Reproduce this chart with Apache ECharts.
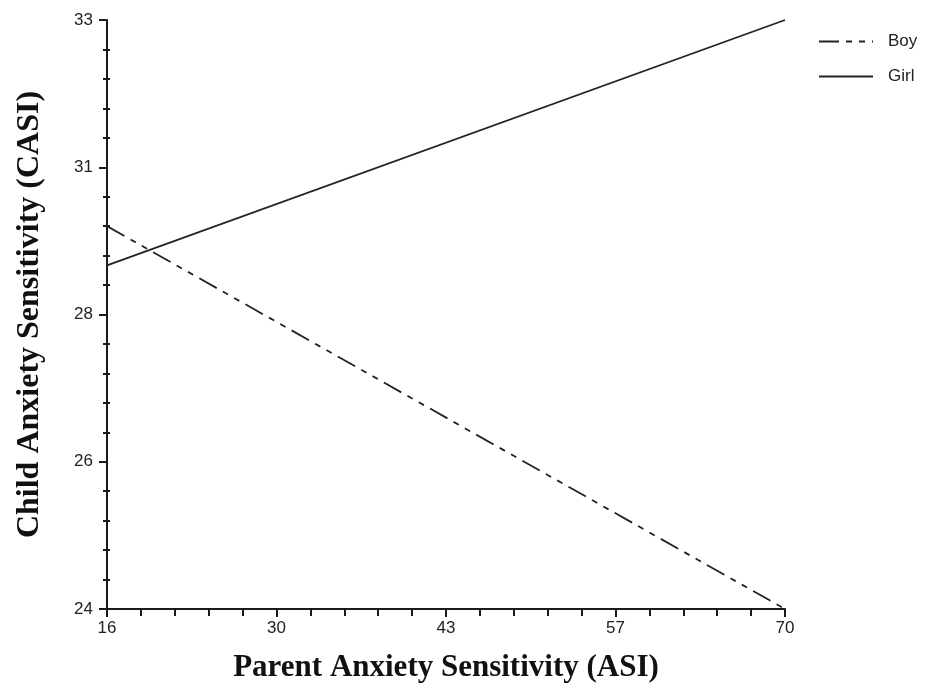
<!DOCTYPE html>
<html><head><meta charset="utf-8">
<script src="https://cdn.jsdelivr.net/npm/echarts@6/dist/echarts.min.js"></script>
<style>html,body{margin:0;padding:0;background:#fff}#c{width:928px;height:688px}</style>
</head><body><div id="c"></div>
<script>
const xTicks = [16, 29.5, 43, 56.5, 70];
const xTickLabels = ["16", "30", "43", "57", "70"];
const yTicks = [24, 26.25, 28.5, 30.75, 33];
const yTickLabels = ["24", "26", "28", "31", "33"];
const seriesNames = ["Boy", "Girl"];
const xValues = [16, 70];
const boyValues = [29.85, 24.0];
const girlValues = [29.25, 33.0];

function minorOf(ticks, n) {
  const out = [];
  for (let i = 0; i < ticks.length - 1; i++) {
    const step = (ticks[i + 1] - ticks[i]) / n;
    for (let k = 1; k < n; k++) out.push(ticks[i] + step * k);
  }
  return out;
}
const xMinor = minorOf(xTicks, 5);
const yMinor = minorOf(yTicks, 5);

const axisColor = '#1a1a1a';
const labelFont = { fontFamily: 'Liberation Sans', fontSize: 17, color: '#222' };
const nameFontX = { fontFamily: 'Liberation Serif', fontWeight: 'bold', fontSize: 31, color: '#111' };
const nameFontY = { fontFamily: 'Liberation Serif', fontWeight: 'bold', fontSize: 32, color: '#111' };

const chart = echarts.init(document.getElementById('c'));
const xBase = { type: 'value', min: 16, max: 70, position: 'bottom', splitLine: { show: false } };
const yBase = { type: 'value', min: 24, max: 33, position: 'left', splitLine: { show: false } };
const tickLine = { color: axisColor, width: 2 };

chart.setOption({
  animation: false,
  backgroundColor: '#fff',
  grid: { left: 107, right: 143, top: 20, bottom: 76, containLabel: false },
  legend: {
    left: 813, top: 28, orient: 'vertical', itemWidth: 54, itemHeight: 20, itemGap: 18,
    itemStyle: { opacity: 0 },
    textStyle: { fontFamily: 'Liberation Sans', fontSize: 17, color: '#222', padding: [0, 0, 0, 10] },
    data: seriesNames
  },
  xAxis: [
    Object.assign({}, xBase, {
      name: 'Parent Anxiety Sensitivity (ASI)', nameLocation: 'middle', nameGap: 43,
      nameTextStyle: nameFontX,
      axisLine: { show: true, onZero: false, lineStyle: { color: axisColor, width: 2 } },
      axisTick: { show: true, length: 8, customValues: xTicks, lineStyle: tickLine },
      axisLabel: Object.assign({ customValues: xTicks, margin: 11,
        formatter: v => { const i = xTicks.findIndex(t => Math.abs(t - v) < 1e-6); return i >= 0 ? xTickLabels[i] : ''; } }, labelFont)
    }),
    Object.assign({}, xBase, {
      axisLine: { show: false, onZero: false },
      axisTick: { show: true, length: 7, customValues: xMinor, lineStyle: tickLine },
      axisLabel: { show: false }
    })
  ],
  yAxis: [
    Object.assign({}, yBase, {
      name: 'Child Anxiety Sensitivity (CASI)', nameLocation: 'middle', nameGap: 61, nameRotate: 90,
      nameTextStyle: nameFontY,
      axisLine: { show: true, onZero: false, lineStyle: { color: axisColor, width: 2 } },
      axisTick: { show: true, length: 8, customValues: yTicks, lineStyle: tickLine },
      axisLabel: Object.assign({ customValues: yTicks, margin: 14,
        formatter: v => { const i = yTicks.findIndex(t => Math.abs(t - v) < 1e-6); return i >= 0 ? yTickLabels[i] : ''; } }, labelFont)
    }),
    Object.assign({}, yBase, {
      axisLine: { show: false, onZero: false },
      axisTick: { show: true, length: 4, customValues: yMinor, lineStyle: tickLine },
      axisLabel: { show: false }
    }),
    Object.assign({}, yBase, {
      axisLine: { show: false, onZero: false },
      axisTick: { show: true, inside: true, length: 3, customValues: yMinor, lineStyle: tickLine },
      axisLabel: { show: false }
    })
  ],
  series: [
    {
      name: seriesNames[0], type: 'line', xAxisIndex: 0, yAxisIndex: 0, symbol: 'none',
      lineStyle: { color: '#222', width: 1.8, type: [20, 7, 6, 7, 6, 7] }, itemStyle: { color: '#222' },
      data: xValues.map((x, i) => [x, boyValues[i]])
    },
    {
      name: seriesNames[1], type: 'line', xAxisIndex: 0, yAxisIndex: 0, symbol: 'none',
      lineStyle: { color: '#222', width: 1.8, type: 'solid' }, itemStyle: { color: '#222' },
      data: xValues.map((x, i) => [x, girlValues[i]])
    }
  ]
});
</script></body></html>
